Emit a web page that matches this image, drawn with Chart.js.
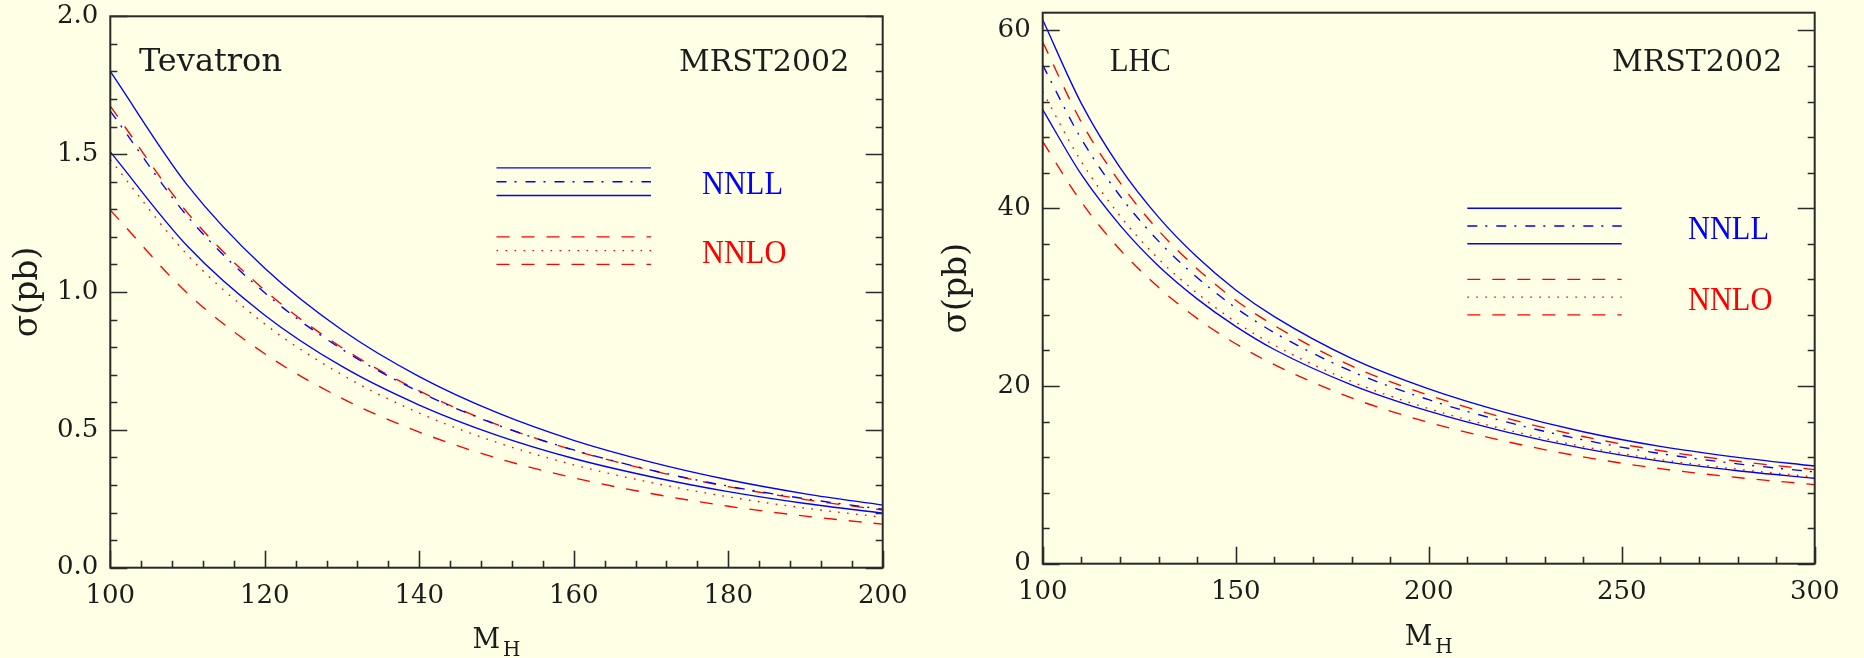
<!DOCTYPE html>
<html>
<head>
<meta charset="utf-8">
<script src="https://cdn.jsdelivr.net/npm/chart.js@4.4.1/dist/chart.umd.min.js"></script>
<style>
  html, body { margin: 0; padding: 0; background: #ffffe5; width: 1864px; height: 658px; overflow: hidden; }
  .panel { position: absolute; top: 0; width: 932px; height: 658px; }
</style>
</head>
<body>
<div class="panel" style="left:0"><canvas id="tev"></canvas></div>
<div class="panel" style="left:932px"><canvas id="lhc"></canvas></div>
<script>
// ---------- Tevatron panel (sigma in pb vs M_H in GeV) ----------
const tevMH       = [100, 110, 120, 130, 140, 150, 160, 170, 180, 190, 200];
const tevNNLLup   = [1.800, 1.387, 1.086, 0.862, 0.693, 0.563, 0.462, 0.383, 0.319, 0.268, 0.227];
const tevNNLLcen  = [1.656, 1.274, 0.997, 0.792, 0.638, 0.519, 0.427, 0.354, 0.296, 0.250, 0.212];
const tevNNLLlow  = [1.508, 1.166, 0.916, 0.730, 0.590, 0.481, 0.396, 0.330, 0.276, 0.233, 0.198];
const tevNNLOup   = [1.674, 1.287, 1.006, 0.798, 0.641, 0.520, 0.426, 0.353, 0.294, 0.247, 0.209];
const tevNNLOcen  = [1.480, 1.134, 0.884, 0.700, 0.561, 0.455, 0.373, 0.309, 0.257, 0.216, 0.183];
const tevNNLOlow  = [1.297, 0.995, 0.776, 0.614, 0.492, 0.398, 0.326, 0.269, 0.223, 0.187, 0.158];
const tevXTicks   = [100, 120, 140, 160, 180, 200];
const tevYTicks   = ['0.0', '0.5', '1.0', '1.5', '2.0'];
// legend key lines (x from/to, y levels)
const tevKeyX     = [150, 170];
const tevKeyY     = [1.45, 1.40, 1.35, 1.20, 1.15, 1.10];

// ---------- LHC panel ----------
const lhcMH       = [100, 110, 120, 130, 140, 150, 160, 180, 200, 220, 240, 260, 280, 300];
const lhcNNLLup   = [61.2, 51.8, 44.6, 39.0, 34.5, 30.8, 27.8, 23.1, 19.67, 17.0, 14.85, 13.2, 11.97, 10.99];
const lhcNNLLcen  = [56.1, 47.8, 41.4, 36.3, 32.2, 28.8, 26.0, 21.65, 18.45, 15.96, 13.94, 12.39, 11.24, 10.32];
const lhcNNLLlow  = [51.1, 43.8, 38.1, 33.5, 29.8, 26.7, 24.1, 20.13, 17.16, 14.84, 12.97, 11.54, 10.46, 9.61];
const lhcNNLOup   = [58.7, 49.7, 42.9, 37.5, 33.2, 29.65, 26.8, 22.25, 18.95, 16.38, 14.31, 12.72, 11.53, 10.59];
const lhcNNLOcen  = [53.1, 45.25, 39.15, 34.3, 30.45, 27.2, 24.6, 20.5, 17.45, 15.09, 13.18, 11.72, 10.63, 9.76];
const lhcNNLOlow  = [47.5, 40.7, 35.35, 31.1, 27.6, 24.75, 22.4, 18.66, 15.9, 13.76, 12.02, 10.69, 9.70, 8.90];
const lhcXTicks   = [100, 150, 200, 250, 300];
const lhcYTicks   = ['0', '20', '40', '60'];
const lhcKeyX     = [210, 250];
const lhcKeyY     = [40, 38, 36, 32, 30, 28];

// ---------- styles ----------
const BLUE = '#0000ff', RED = '#ff0000', INK = '#1c1c1c';
const SOLID = [], DASHDOT = [10, 8, 2, 9], DASHED = [13, 12], DOTTED = [1.6, 7.4];
const SERIF = 'DejaVu Serif';
const TIMES = 'Liberation Serif';

Chart.defaults.font.family = SERIF;

function pts(xs, ys) { return xs.map((x, i) => ({ x: x, y: ys[i] })); }
function line(data, color, dash) {
  return {
    data: data, borderColor: color, borderWidth: 1.35, borderDash: dash,
    borderCapStyle: 'butt', pointRadius: 0, fill: false,
    cubicInterpolationMode: 'monotone', clip: 2
  };
}
function curveSets(mh, up, cen, low, nup, ncen, nlow, keyX, keyY) {
  const styles = [[BLUE, SOLID], [BLUE, DASHDOT], [BLUE, SOLID], [RED, DASHED], [RED, DOTTED], [RED, DASHED]];
  const curves = [up, cen, low, nup, ncen, nlow];
  const sets = curves.map((c, i) => line(pts(mh, c), styles[i][0], styles[i][1]));
  keyY.forEach((yv, i) => sets.push(line(pts(keyX, [yv, yv]), styles[i][0], styles[i][1])));
  return sets;
}

// frame + inward ticks (major and minor) drawn with the chart's scales
const framePlugin = {
  id: 'frame',
  afterDatasetsDraw(chart, args, o) {
    const { ctx, chartArea: a, scales } = chart;
    const xs = scales.x, ys = scales.y;
    ctx.save();
    ctx.strokeStyle = '#2a2a2a';
    ctx.lineWidth = 2;
    ctx.strokeRect(a.left, a.top, a.right - a.left, a.bottom - a.top);
    ctx.lineWidth = 1.6;
    ctx.beginPath();
    let n = Math.round((o.yTickMax - o.yMin) / o.yMinor);
    for (let i = 0; i <= n; i++) {
      const v = o.yMin + i * o.yMinor;
      const r = v / o.yMajor;
      const len = Math.abs(r - Math.round(r)) < 1e-6 ? 17 : 7;
      const py = Math.round(ys.getPixelForValue(v)) + 0.5;
      ctx.moveTo(a.left, py); ctx.lineTo(a.left + len, py);
      ctx.moveTo(a.right, py); ctx.lineTo(a.right - len, py);
    }
    n = Math.round((o.xMax - o.xMin) / o.xMinor);
    for (let i = 0; i <= n; i++) {
      const v = o.xMin + i * o.xMinor;
      const r = (v - o.xMin) / o.xMajor;
      const len = Math.abs(r - Math.round(r)) < 1e-6 ? 17 : 7;
      const px = Math.round(xs.getPixelForValue(v)) + 0.5;
      ctx.moveTo(px, a.bottom); ctx.lineTo(px, a.bottom - len);
    }
    ctx.stroke();
    ctx.restore();
  }
};

// annotations and axis titles
const textPlugin = {
  id: 'texts',
  afterDraw(chart, args, o) {
    const { ctx, chartArea: a } = chart;
    ctx.save();
    ctx.textBaseline = 'alphabetic';
    ctx.textAlign = 'left';
    o.items.forEach(t => {
      ctx.save();
      ctx.font = t.font; ctx.fillStyle = t.color;
      ctx.translate(t.x, t.y);
      ctx.scale(t.sx || 1, 1);
      ctx.fillText(t.text, 0, 0);
      ctx.restore();
    });
    // y title, rotated
    ctx.save();
    ctx.translate(o.yTitleX, (a.top + a.bottom) / 2);
    ctx.rotate(-Math.PI / 2);
    ctx.textAlign = 'center';
    ctx.textBaseline = 'middle';
    ctx.font = '33px "' + SERIF + '"';
    ctx.fillStyle = INK;
    ctx.fillText('\u03c3(pb)', 0, 0);
    ctx.restore();
    // x title M_H
    ctx.fillStyle = INK;
    ctx.font = '27px "' + SERIF + '"';
    const mw = ctx.measureText('M').width;
    ctx.font = '20px "' + SERIF + '"';
    const hw = ctx.measureText('H').width;
    const cx = (a.left + a.right) / 2;
    const x0 = cx - (mw + 3 + hw) / 2;
    ctx.font = '27px "' + SERIF + '"';
    ctx.fillText('M', x0, o.mBase);
    ctx.font = '20px "' + SERIF + '"';
    ctx.fillText('H', x0 + mw + 3, o.mBase + 8);
    ctx.restore();
  }
};

function makeChart(id, cfg) {
  return new Chart(document.getElementById(id), {
    type: 'line',
    data: { datasets: cfg.datasets },
    options: {
      responsive: true, maintainAspectRatio: false, animation: false,
      layout: { padding: { left: 0, top: cfg.top, right: 932 - cfg.right, bottom: 0 } },
      plugins: { legend: { display: false }, tooltip: { enabled: false },
        frame: cfg.frame, texts: cfg.texts },
      scales: {
        x: {
          type: 'linear', position: 'bottom', min: cfg.xMin, max: cfg.xMax,
          afterFit: s => { s.height = 658 - cfg.bottom; },
          afterBuildTicks: s => { s.ticks = cfg.xTicks.map(v => ({ value: v })); },
          ticks: { color: INK, font: { size: 26, family: SERIF }, padding: 13, maxRotation: 0,
                   autoSkip: false, callback: v => String(v) },
          grid: { display: false, drawTicks: false }, border: { display: false }
        },
        y: {
          type: 'linear', position: 'left', min: cfg.yMin, max: cfg.yMax,
          afterFit: s => { s.width = cfg.left; },
          afterBuildTicks: s => { s.ticks = cfg.yTicks.map(v => ({ value: parseFloat(v) })); },
          // tiny lineHeight: single-line labels render the same, but do not pad the chart area
          ticks: { color: INK, font: { size: 26, family: SERIF, lineHeight: 0.01 }, padding: 12, autoSkip: false,
                   callback: (v, i) => cfg.yTicks[i] },
          grid: { display: false, drawTicks: false }, border: { display: false }
        }
      }
    },
    plugins: [framePlugin, textPlugin]
  });
}

makeChart('tev', {
  left: 110.3, right: 882.7, top: 16.3, bottom: 567.7,
  xMin: 100, xMax: 200, yMin: 0, yMax: 2.0,
  xTicks: tevXTicks, yTicks: tevYTicks,
  datasets: curveSets(tevMH, tevNNLLup, tevNNLLcen, tevNNLLlow, tevNNLOup, tevNNLOcen, tevNNLOlow, tevKeyX, tevKeyY),
  frame: { yMin: 0, yTickMax: 2.0, yMinor: 0.1, yMajor: 0.5, xMin: 100, xMax: 200, xMinor: 4, xMajor: 20 },
  texts: {
    yTitleX: 28, mBase: 648,
    items: [
      { text: 'Tevatron', x: 139, y: 71, font: '32px "' + SERIF + '"', color: INK },
      { text: 'MRST2002', x: 679, y: 71, font: '30px "' + SERIF + '"', color: INK },
      { text: 'NNLL', x: 702, y: 194, font: '33px "' + TIMES + '"', color: BLUE, sx: 0.92 },
      { text: 'NNLO', x: 702, y: 263, font: '33px "' + TIMES + '"', color: RED, sx: 0.92 }
    ]
  }
});

makeChart('lhc', {
  left: 110.7, right: 882.7, top: 12.7, bottom: 563.7,
  xMin: 100, xMax: 300, yMin: 0, yMax: 62,
  xTicks: lhcXTicks, yTicks: lhcYTicks,
  datasets: curveSets(lhcMH, lhcNNLLup, lhcNNLLcen, lhcNNLLlow, lhcNNLOup, lhcNNLOcen, lhcNNLOlow, lhcKeyX, lhcKeyY),
  frame: { yMin: 0, yTickMax: 60, yMinor: 4, yMajor: 20, xMin: 100, xMax: 300, xMinor: 10, xMajor: 50 },
  texts: {
    yTitleX: 25, mBase: 645,
    items: [
      { text: 'LHC', x: 178, y: 71, font: '33px "' + TIMES + '"', color: INK, sx: 0.92 },
      { text: 'MRST2002', x: 680, y: 71, font: '30px "' + SERIF + '"', color: INK },
      { text: 'NNLL', x: 756, y: 239, font: '33px "' + TIMES + '"', color: BLUE, sx: 0.92 },
      { text: 'NNLO', x: 756, y: 310, font: '33px "' + TIMES + '"', color: RED, sx: 0.92 }
    ]
  }
});
</script>
</body>
</html>
